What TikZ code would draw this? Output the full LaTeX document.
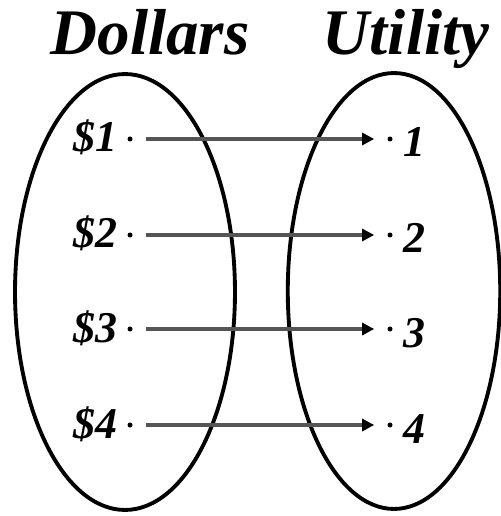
\documentclass[tikz,border=0pt]{standalone}
\usepackage{fontspec}
\setmainfont{Liberation Serif}
\usepackage{tikz}
\usetikzlibrary{arrows.meta, positioning, shapes.geometric}
\usepackage{xcolor}
\definecolor{arrowgray}{RGB}{85,85,85}

\begin{document}
\begin{tikzpicture}[x=0.02cm, y=-0.02cm,
    pt/.style={circle, fill=black, inner sep=0pt, minimum size=0.1cm},
    setoval/.style={draw, ellipse, line width=2.2pt, inner sep=0pt, minimum width=4.4cm, minimum height=8.72cm},
    title/.style={font=\fontsize{37}{42}\selectfont\bfseries\itshape, inner sep=0pt},
    lab/.style={font=\fontsize{25}{30}\selectfont\bfseries\itshape, inner sep=0pt},
    map/.style={draw=arrowgray, line width=2pt, -{Triangle[length=0.24cm, width=0.24cm, color=black]}, shorten <=0.26cm, shorten >=0.26cm}]
  \useasboundingbox (0,0) rectangle (500,516);
  % the two sets
  \node[setoval] (dollarset) at (125,292) {};
  \node[setoval, minimum width=4.25cm] (utilset) at (394,291) {};
  \node[title, anchor=base] (dtitle) at (150,55) {Dollars};
  \node[title, anchor=base] (utitle) at (406,55) {Utility};
  % points
  \node[pt] (d1) at (130,139) {};
  \node[pt] (d2) at (130,235) {};
  \node[pt] (d3) at (130,329) {};
  \node[pt] (d4) at (130,425) {};
  \node[pt] (u1) at (390,139) {};
  \node[pt] (u2) at (390,235) {};
  \node[pt] (u3) at (390,329) {};
  \node[pt] (u4) at (390,425) {};
  \node[lab, anchor=base east] (dl1) at (118,152) {\$1};
  \node[lab, anchor=base east] (dl2) at (118,248) {\$2};
  \node[lab, anchor=base east] (dl3) at (118,342) {\$3};
  \node[lab, anchor=base east] (dl4) at (118,438) {\$4};
  \node[lab, anchor=base west] (ul1) at (403,157) {1};
  \node[lab, anchor=base west] (ul2) at (403,253) {2};
  \node[lab, anchor=base west] (ul3) at (403,347) {3};
  \node[lab, anchor=base west] (ul4) at (403,443) {4};
  \draw[map] (d1) -- (u1);
  \draw[map] (d2) -- (u2);
  \draw[map] (d3) -- (u3);
  \draw[map] (d4) -- (u4);
\end{tikzpicture}
\end{document}
